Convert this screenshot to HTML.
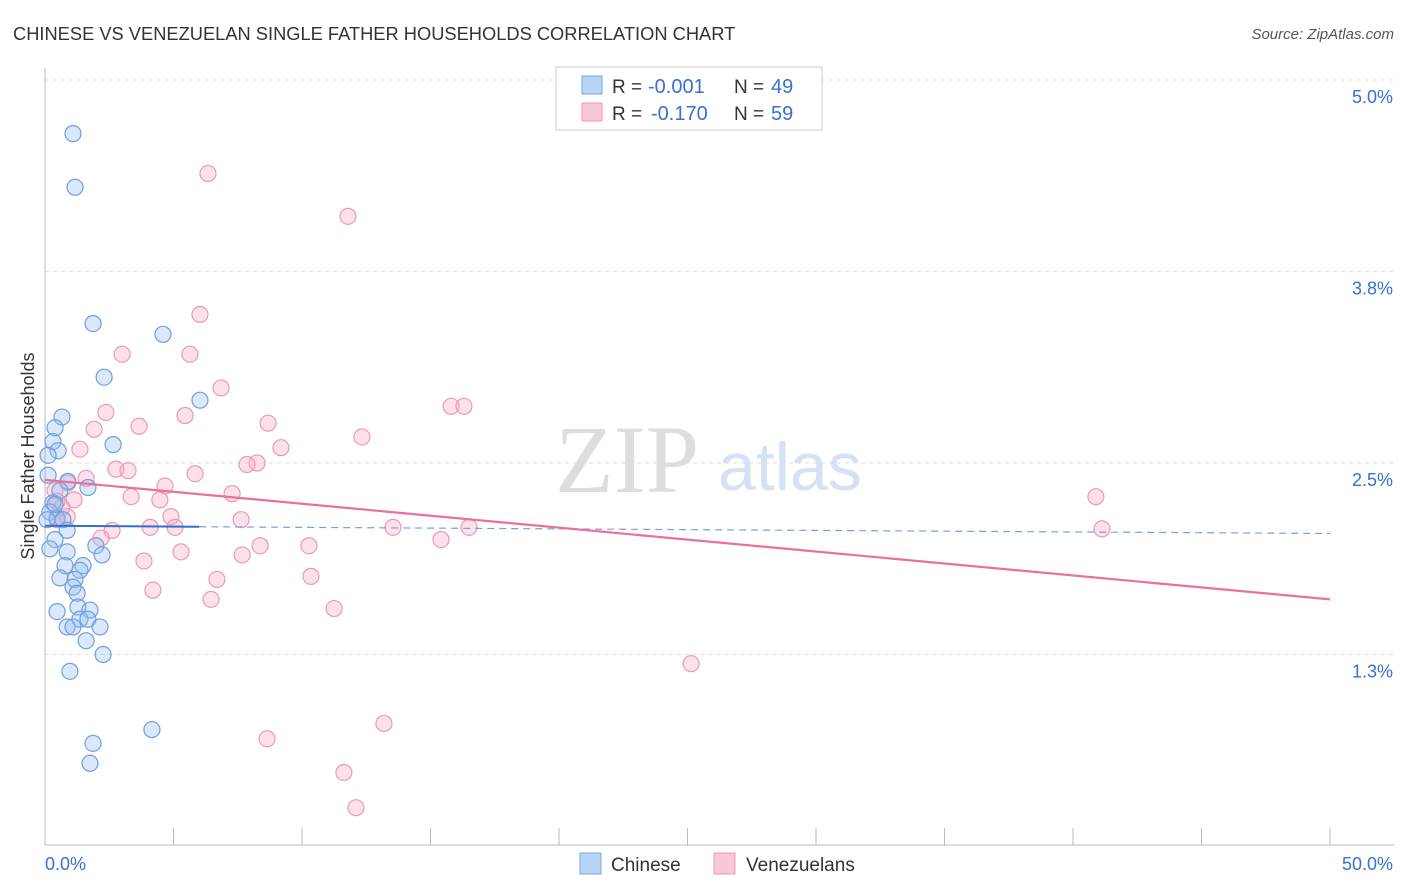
<!DOCTYPE html>
<html><head><meta charset="utf-8">
<style>
body{margin:0;background:#fff;font-family:"Liberation Sans",sans-serif;}
svg{display:block}
</style></head>
<body>
<svg id="chart" width="1406" height="892" xmlns="http://www.w3.org/2000/svg">
<text x="13" y="40" font-size="18.3" fill="#333">CHINESE VS VENEZUELAN SINGLE FATHER HOUSEHOLDS CORRELATION CHART</text>
<text x="1394" y="39" font-size="15" fill="#555" font-style="italic" text-anchor="end">Source: ZipAtlas.com</text>
<text x="555" y="492" font-size="96" font-family="Liberation Serif,serif" fill="#ddd">ZIP</text>
<text x="718" y="490" font-size="68" fill="#d4e2f4">atlas</text>
<text transform="translate(34,456) rotate(-90)" font-size="18" fill="#333" text-anchor="middle">Single Father Households</text>
<g id="grid"></g><g id="axes"></g><g id="marks"></g>
<g>
<rect x="556" y="67" width="266" height="63" fill="#fff" stroke="#ccc"/>
<rect x="582" y="76" width="20" height="18" fill="#b8d4f4" stroke="#7aa8e0"/>
<rect x="582" y="103" width="20" height="18" fill="#f9c7d6" stroke="#eb9ab3"/>
<text x="612" y="93" font-size="19" fill="#333">R =</text>
<text x="648" y="93" font-size="20" fill="#3a6fd4">-0.001</text>
<text x="734" y="93" font-size="19" fill="#333">N =</text>
<text x="771" y="93" font-size="20" fill="#3a6fd4">49</text>
<text x="612" y="120" font-size="19" fill="#333">R =</text>
<text x="651" y="120" font-size="20" fill="#3a6fd4">-0.170</text>
<text x="734" y="120" font-size="19" fill="#333">N =</text>
<text x="771" y="120" font-size="20" fill="#3a6fd4">59</text>
</g>
<g>
<rect x="580" y="853" width="21" height="21" fill="#b8d4f4" stroke="#7aa8e0"/>
<text x="611" y="871" font-size="19" fill="#333">Chinese</text>
<rect x="714" y="853" width="21" height="21" fill="#f9c7d6" stroke="#eb9ab3"/>
<text x="746" y="871" font-size="19" fill="#333">Venezuelans</text>
</g>
</svg>
<script>
const yTicks=[1.25,2.5,3.75,5.0];
const yTickLabels=["1.3%","2.5%","3.8%","5.0%"];
const xTickLabels=["0.0%","50.0%"];
const chineseX=[1.09,1.17,1.87,4.59,2.30,6.03,0.66,0.39,0.31,2.65,0.51,0.12,0.12,0.89,1.67,0.58,0.31,0.19,0.47,0.70,0.86,0.39,1.98,0.19,0.86,2.22,1.48,1.36,0.78,0.58,1.17,1.09,1.25,0.47,1.28,1.75,1.36,1.67,0.86,1.09,2.14,1.60,2.26,0.97,4.16,1.87,1.75,0.08,0.39];
const chineseY=[4.65,4.30,3.41,3.34,3.06,2.91,2.80,2.73,2.64,2.62,2.58,2.55,2.42,2.38,2.34,2.32,2.24,2.18,2.14,2.13,2.06,2.00,1.96,1.94,1.92,1.90,1.83,1.80,1.83,1.75,1.74,1.69,1.65,1.53,1.56,1.54,1.48,1.48,1.43,1.43,1.43,1.34,1.25,1.14,0.76,0.67,0.54,2.13,2.23];
const venX=[6.34,11.79,6.03,3.00,5.64,6.85,2.37,5.45,3.66,1.91,8.68,12.33,1.36,9.18,15.80,16.30,2.76,3.23,8.25,7.86,5.84,1.60,0.89,4.67,7.28,3.35,1.13,4.47,0.47,0.86,4.90,7.63,13.54,4.09,5.06,2.61,16.50,15.41,8.37,10.27,2.18,5.29,3.85,7.67,10.35,6.69,4.20,6.46,11.25,40.89,41.13,25.14,13.19,8.64,11.63,12.10,0.39,0.66,0.47];
const venY=[4.39,4.11,3.47,3.21,3.21,2.99,2.83,2.81,2.74,2.72,2.76,2.67,2.59,2.60,2.87,2.87,2.46,2.45,2.50,2.49,2.43,2.40,2.37,2.35,2.30,2.28,2.26,2.26,2.25,2.15,2.15,2.13,2.08,2.08,2.08,2.06,2.08,2.00,1.96,1.96,2.01,1.92,1.86,1.90,1.76,1.74,1.67,1.61,1.55,2.28,2.07,1.19,0.80,0.70,0.48,0.25,2.32,2.21,2.13];
const chineseTrend=[2.09,2.04];
const venTrend=[2.39,1.61];
const NS="http://www.w3.org/2000/svg";
const X=v=>45+v/50*1285, Y=v=>846-v*153.2;
function mk(t,a,p){const e=document.createElementNS(NS,t);for(const k in a)e.setAttribute(k,a[k]);p.appendChild(e);return e;}
const grid=document.getElementById('grid'),axes=document.getElementById('axes'),marks=document.getElementById('marks');
yTicks.forEach((t,i)=>{
 const l=mk('line',{x1:45,x2:1394,y1:Y(t),y2:Y(t),stroke:'#ddd','stroke-dasharray':'4,4'},grid);
 
 
 const tx=mk('text',{x:1393,y:Y(t)+23,'font-size':18,fill:'#3a6fd4','text-anchor':'end'},axes);
 tx.textContent=yTickLabels[i];
 
 
});
let a=mk('line',{x1:45,x2:45,y1:68,y2:845,stroke:'#bbb'},axes);


a=mk('line',{x1:45,x2:1394,y1:845,y2:845,stroke:'#bbb'},axes);


for(let i=0;i<=10;i++){const tk=mk('line',{x1:X(i*5),x2:X(i*5),y1:845,y2:828,stroke:'#bbb'},axes);
 
 }
[[0,45,'start'],[1,1393,'end']].forEach(([i,x,an])=>{const t=mk('text',{x:x,y:870,'font-size':18,fill:'#3a6fd4','text-anchor':an},axes);t.textContent=xTickLabels[i];
 
 });
venX.forEach((v,i)=>{const c=mk('circle',{cx:X(v),cy:Y(venY[i]),r:8,fill:'rgba(246,170,195,0.35)',stroke:'#eb9ab3','stroke-width':1.2},marks);
 
 });
chineseX.forEach((v,i)=>{const c=mk('circle',{cx:X(v),cy:Y(chineseY[i]),r:8,fill:'rgba(150,190,240,0.35)',stroke:'#6e9fe0','stroke-width':1.2},marks);
 
 });
let t=mk('line',{x1:X(6),x2:X(50),y1:Y(chineseTrend[0]+(chineseTrend[1]-chineseTrend[0])*6/50),y2:Y(chineseTrend[1]),stroke:'#7aa0d8','stroke-width':1.2,'stroke-dasharray':'7,5'},marks);


t=mk('line',{x1:X(0),x2:X(6),y1:Y(chineseTrend[0]),y2:Y(chineseTrend[0]+(chineseTrend[1]-chineseTrend[0])*6/50),stroke:'#2f6fd0','stroke-width':2},marks);


t=mk('line',{x1:X(0),x2:X(50),y1:Y(venTrend[0]),y2:Y(venTrend[1]),stroke:'#e8709a','stroke-width':2.2},marks);


</script>
</body></html>
